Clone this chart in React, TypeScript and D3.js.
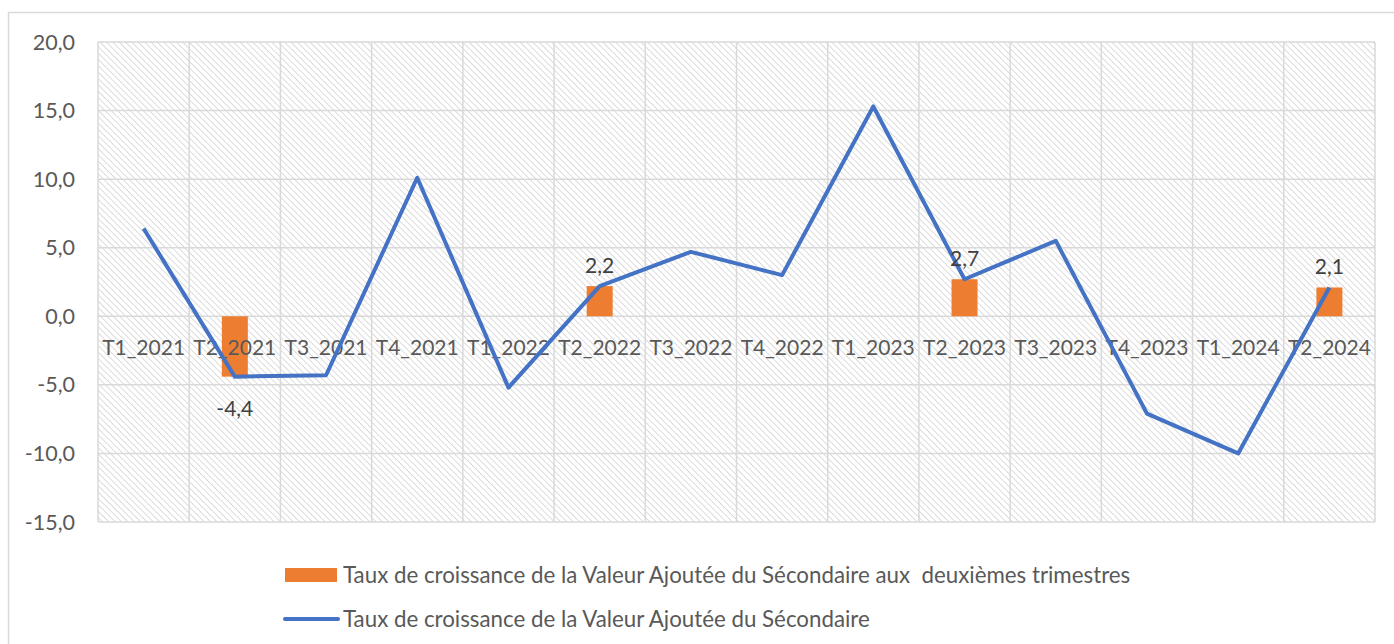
import React, { useEffect, useRef } from 'react';
import * as d3 from 'd3';

const categories = [
  'T1_2021', 'T2_2021', 'T3_2021', 'T4_2021',
  'T1_2022', 'T2_2022', 'T3_2022', 'T4_2022',
  'T1_2023', 'T2_2023', 'T3_2023', 'T4_2023',
  'T1_2024', 'T2_2024',
];
const lineValues = [6.4, -4.4, -4.3, 10.1, -5.2, 2.2, 4.7, 3.0, 15.3, 2.7, 5.5, -7.1, -10.0, 2.1];
const barCats = ['T2_2021', 'T2_2022', 'T2_2023', 'T2_2024'];
const barValues = [-4.4, 2.2, 2.7, 2.1];
const yTicks = [-15, -10, -5, 0, 5, 10, 15, 20];
const barLegend = 'Taux de croissance de la Valeur Ajoutée du Sécondaire aux  deuxièmes trimestres';
const lineLegend = 'Taux de croissance de la Valeur Ajoutée du Sécondaire';

const W = 1394;
const H = 644;
const FONT = 'Lato, "Open Sans", sans-serif';
const TEXT = '#595959';
const GRID = '#d9d9d9';

const fmt = (v: number) => v.toFixed(1).replace('.', ',');

const App: React.FC = () => {
  const ref = useRef<SVGSVGElement>(null);

  useEffect(() => {
    if (!ref.current) return;
    const svg = d3.select(ref.current);
    svg.selectAll('*').remove();

    const m = { top: 42, left: 98, right: 1375, bottom: 522 };

    const x = d3.scaleBand().domain(categories).range([m.left, m.right]);
    const y = d3.scaleLinear().domain([-15, 20]).range([m.bottom, m.top]);

    // outer frame
    svg.append('rect')
      .attr('x', 8.5).attr('y', 12.5)
      .attr('width', W).attr('height', H)
      .attr('fill', 'white')
      .attr('stroke', GRID).attr('stroke-width', 1.5);

    // hatched plot background
    const defs = svg.append('defs');
    const pat = defs.append('pattern')
      .attr('id', 'hatch')
      .attr('patternUnits', 'userSpaceOnUse')
      .attr('width', 4.5).attr('height', 4.5)
      .attr('patternTransform', 'rotate(-45)');
    pat.append('line')
      .attr('x1', 0).attr('y1', 0).attr('x2', 0).attr('y2', 4.5)
      .attr('stroke', '#d6d6d6').attr('stroke-width', 1.7);

    svg.append('rect')
      .attr('x', m.left).attr('y', m.top)
      .attr('width', m.right - m.left).attr('height', m.bottom - m.top)
      .attr('fill', 'url(#hatch)');

    // gridlines
    const g = svg.append('g');
    g.selectAll('line.h')
      .data(yTicks)
      .enter()
      .append('line')
      .attr('x1', m.left).attr('x2', m.right)
      .attr('y1', d => y(d)).attr('y2', d => y(d))
      .attr('stroke', GRID).attr('stroke-width', 1.5);

    const vx = categories.map(c => x(c) as number).concat([m.right]);
    g.selectAll('line.v')
      .data(vx)
      .enter()
      .append('line')
      .attr('x1', d => d).attr('x2', d => d)
      .attr('y1', m.top).attr('y2', m.bottom)
      .attr('stroke', GRID).attr('stroke-width', 1.5);

    // y tick labels
    svg.append('g')
      .selectAll('text')
      .data(yTicks)
      .enter()
      .append('text')
      .attr('x', 75)
      .attr('y', d => y(d))
      .attr('dy', '0.35em')
      .attr('text-anchor', 'end')
      .attr('font-family', FONT)
      .attr('font-size', 21.5)
      .attr('fill', TEXT)
      .text(d => fmt(d));

    // bars
    const bw = 26;
    svg.append('g')
      .selectAll('rect')
      .data(barCats.map((c, i) => ({ c, v: barValues[i] })))
      .enter()
      .append('rect')
      .attr('x', d => (x(d.c) as number) + x.bandwidth() / 2 - bw / 2)
      .attr('y', d => y(Math.max(0, d.v)))
      .attr('width', bw)
      .attr('height', d => Math.abs(y(d.v) - y(0)))
      .attr('fill', '#ed7d31');

    // category labels (sit just below the zero line)
    svg.append('g')
      .selectAll('text')
      .data(categories)
      .enter()
      .append('text')
      .attr('x', d => (x(d) as number) + x.bandwidth() / 2)
      .attr('y', y(0) + 39)
      .attr('text-anchor', 'middle')
      .attr('font-family', FONT)
      .attr('font-size', 21)
      .attr('fill', TEXT)
      .text(d => d);

    // line
    const line = d3.line<number>()
      .x((_, i) => (x(categories[i]) as number) + x.bandwidth() / 2)
      .y(d => y(d));
    svg.append('path')
      .datum(lineValues)
      .attr('fill', 'none')
      .attr('stroke', '#4472c4')
      .attr('stroke-width', 4)
      .attr('stroke-linejoin', 'round')
      .attr('d', line);

    // bar data labels
    svg.append('g')
      .selectAll('text')
      .data(barCats.map((c, i) => ({ c, v: barValues[i] })))
      .enter()
      .append('text')
      .attr('x', d => (x(d.c) as number) + x.bandwidth() / 2)
      .attr('y', d => (d.v >= 0 ? y(d.v) - 13 : y(d.v) + 39))
      .attr('text-anchor', 'middle')
      .attr('font-family', FONT)
      .attr('font-size', 21)
      .attr('fill', '#404040')
      .text(d => fmt(d.v));

    // legend
    const lg = svg.append('g').attr('font-family', FONT).attr('font-size', 22.3).attr('fill', TEXT);
    lg.append('rect')
      .attr('x', 285).attr('y', 568).attr('width', 52).attr('height', 14)
      .attr('fill', '#ed7d31');
    lg.append('text')
      .attr('x', 343).attr('y', 575).attr('dy', '0.35em')
      .attr('xml:space', 'preserve')
      .style('white-space', 'pre')
      .text(barLegend);
    lg.append('line')
      .attr('x1', 285).attr('x2', 338).attr('y1', 619).attr('y2', 619)
      .attr('stroke', '#4472c4').attr('stroke-width', 4)
      .attr('stroke-linecap', 'round');
    lg.append('text')
      .attr('x', 343).attr('y', 619).attr('dy', '0.35em')
      .text(lineLegend);
  }, []);

  return (
    <svg
      ref={ref}
      width={W}
      height={H}
      style={{ position: 'absolute', left: 0, top: 0, background: 'white' }}
    />
  );
};

export default App;
